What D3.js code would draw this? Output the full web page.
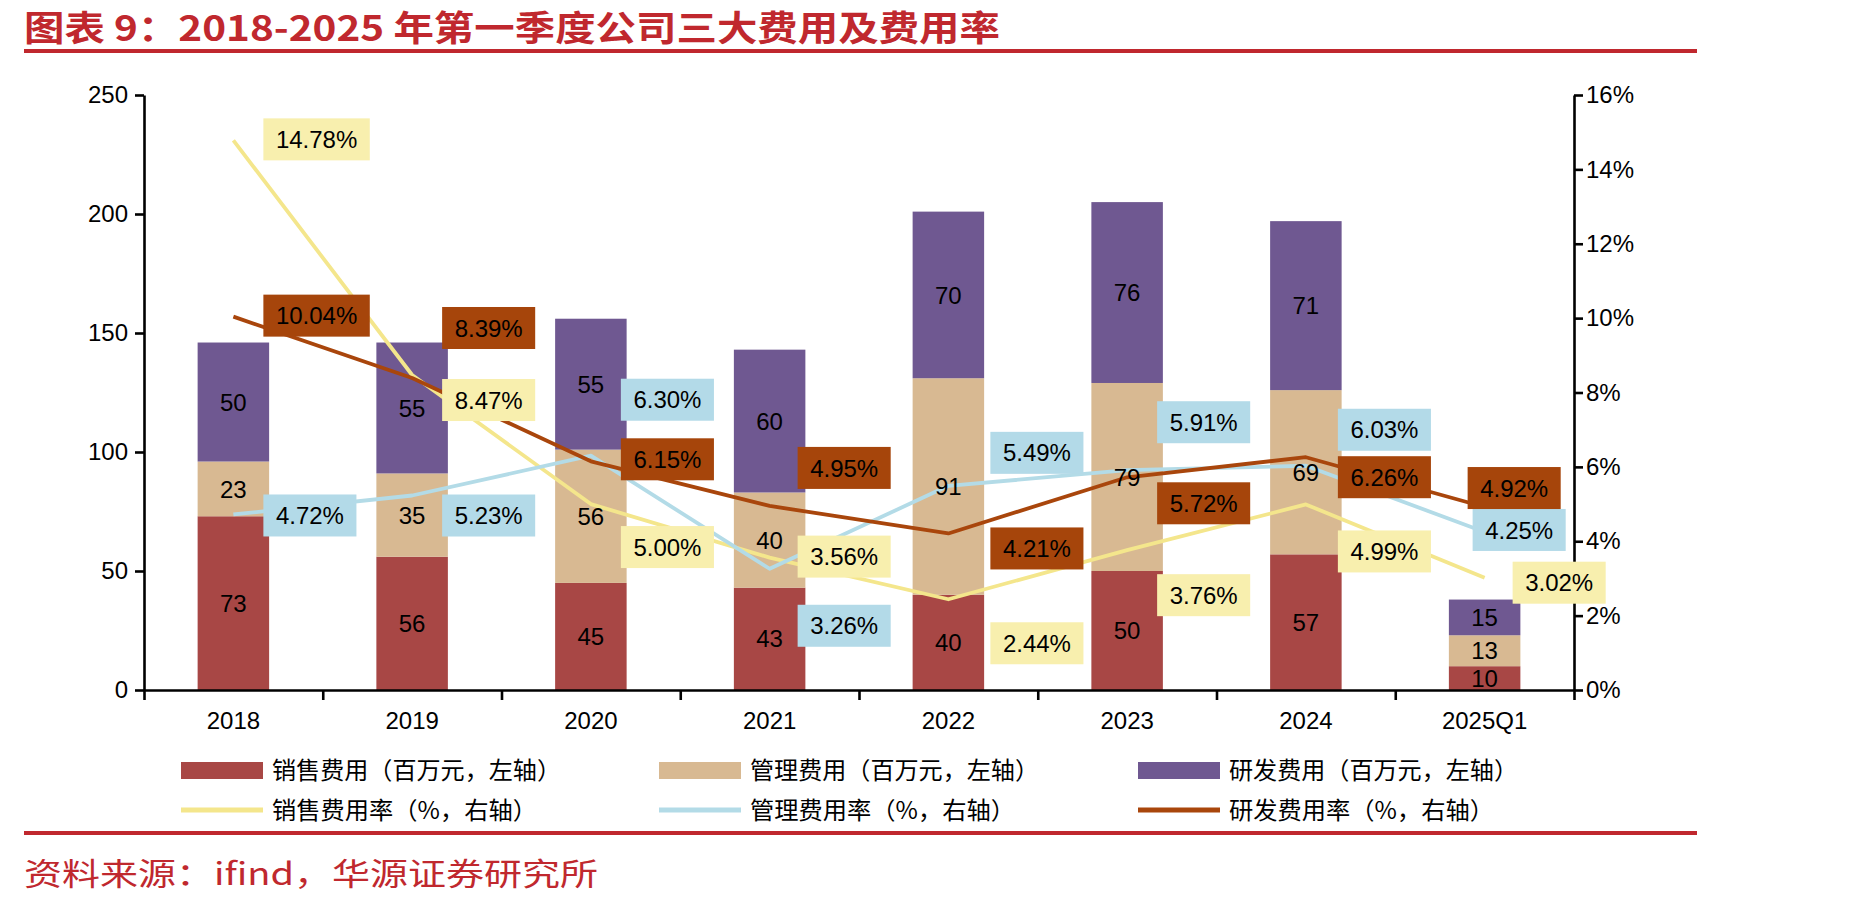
<!DOCTYPE html>
<html>
<head>
<meta charset="utf-8">
<script src="https://cdn.jsdelivr.net/npm/d3@7"></script>
<style>
  body { margin: 0; background: #fff; }
  text { font-family: "Liberation Sans", Arial, Helvetica, sans-serif; }
  .cjk { font-family: "Noto Sans CJK SC", sans-serif; }
</style>
</head>
<body>
<div id="chart"></div>
<script>
// Chart data
// ================================
var categories = ["2018", "2019", "2020", "2021", "2022", "2023", "2024", "2025Q1"];
var salesExp = [73, 56, 45, 43, 40, 50, 57, 10];
var adminExp = [23, 35, 56, 40, 91, 79, 69, 13];
var rdExp = [50, 55, 55, 60, 70, 76, 71, 15];
var salesRate = [14.78, 8.47, 5.0, 3.56, 2.44, 3.76, 4.99, 3.02];
var adminRate = [4.72, 5.23, 6.3, 3.26, 5.49, 5.91, 6.03, 4.25];
var rdRate = [10.04, 8.39, 6.15, 4.95, 4.21, 5.72, 6.26, 4.92];
var leftTicks = [0, 50, 100, 150, 200, 250];
var rightTicks = [0, 2, 4, 6, 8, 10, 12, 14, 16];

// label nudges (px) so the boxes don't collide
var salesDx = [30, 30, 30, 28, 42, 30, 32, 28];
var salesDy = [-1, 25, 43, -1, 44, 45, 47, 5];
var adminDx = [30, 30, 30, 28, 42, 30, 32, -12];
var adminDy = [1, 20, -56, 57, -33, -48, -36, -2];
var rdDx = [30, 30, 30, 28, 42, 30, 32, -17];
var rdDy = [-1, -50, -2, -38, 15, 26, 20, -19];

var red = "#c0282e";
var colors = {
  sales: "#a84745",
  admin: "#d8b992",
  rd: "#6f5891",
  salesLine: "#f4e68c",
  adminLine: "#b3dbe7",
  rdLine: "#a9460c",
  salesBox: "#f8efae",
  adminBox: "#b3dae8",
  rdBox: "#a6450b",
};

// Set up the svg
// ================================
var svgWidth = 1852;
var svgHeight = 905;
var plot = { left: 144, right: 1574, top: 95, bottom: 690 };

var svg = d3
  .select("#chart")
  .append("svg")
  .attr("width", svgWidth)
  .attr("height", svgHeight)
  .style("background", "#fff");

// title + rules
svg
  .append("text")
  .attr("class", "cjk")
  .attr("x", 24)
  .attr("y", 41)
  .attr("fill", red)
  .attr("font-size", 35)
  .attr("font-weight", "bold")
  .attr("textLength", 976)
  .attr("lengthAdjust", "spacingAndGlyphs")
  .text("图表 9：2018-2025 年第一季度公司三大费用及费用率");

svg.append("rect").attr("x", 24).attr("y", 49).attr("width", 1673).attr("height", 4).attr("fill", red);
svg.append("rect").attr("x", 24).attr("y", 831).attr("width", 1673).attr("height", 4).attr("fill", red);

svg
  .append("text")
  .attr("class", "cjk")
  .attr("x", 24)
  .attr("y", 885)
  .attr("fill", red)
  .attr("font-size", 31)
  .attr("textLength", 574)
  .attr("lengthAdjust", "spacingAndGlyphs")
  .text("资料来源：ifind，华源证券研究所");

// scales
var xScale = d3
  .scaleBand()
  .domain(categories)
  .range([plot.left, plot.right])
  .paddingInner(0.6)
  .paddingOuter(0.3);

var yLeft = d3.scaleLinear().domain([0, 250]).range([plot.bottom, plot.top]);
var yRight = d3.scaleLinear().domain([0, 16]).range([plot.bottom, plot.top]);
var xEdge = d3.scaleLinear().domain([0, categories.length]).range([plot.left, plot.right]);

function cx(i) {
  return xScale(categories[i]) + xScale.bandwidth() / 2;
}

// stacked bars
var table = categories.map(function (c, i) {
  return { cat: c, sales: salesExp[i], admin: adminExp[i], rd: rdExp[i] };
});
var stacked = d3.stack().keys(["sales", "admin", "rd"])(table);

var barGroup = svg.append("g");
stacked.forEach(function (layer) {
  barGroup
    .selectAll(null)
    .data(layer)
    .enter()
    .append("rect")
    .attr("x", (d) => xScale(d.data.cat))
    .attr("y", (d) => yLeft(d[1]))
    .attr("width", xScale.bandwidth())
    .attr("height", (d) => yLeft(d[0]) - yLeft(d[1]))
    .attr("fill", colors[layer.key]);
});

// axes
function styleAxis(g) {
  g.select(".domain").attr("stroke", "#000").attr("stroke-width", 2.6);
  g.selectAll(".tick line").attr("stroke", "#000").attr("stroke-width", 2.6);
  g.selectAll(".tick text").attr("fill", "#000").attr("font-size", 24).attr("font-family", "Liberation Sans, Arial, sans-serif");
}

var leftAxis = d3.axisLeft(yLeft).tickValues(leftTicks).tickSize(9).tickSizeOuter(0).tickPadding(7);
svg.append("g").attr("transform", `translate(${plot.left},0)`).call(leftAxis).call(styleAxis);

var rightAxis = d3
  .axisRight(yRight)
  .tickValues(rightTicks)
  .tickFormat((d) => d + "%")
  .tickSize(9)
  .tickSizeOuter(0)
  .tickPadding(3);
svg.append("g").attr("transform", `translate(${plot.right},0)`).call(rightAxis).call(styleAxis);

var edgeAxis = d3.axisBottom(xEdge).ticks(categories.length).tickFormat("").tickSize(10).tickSizeOuter(0);
svg.append("g").attr("transform", `translate(0,${plot.bottom})`).call(edgeAxis).call(styleAxis);

var bottomAxis = d3.axisBottom(xScale).tickSize(0).tickPadding(22);
var xAxisG = svg.append("g").attr("transform", `translate(0,${plot.bottom})`).call(bottomAxis).call(styleAxis);
xAxisG.select(".domain").remove();

// lines
var lineSeries = [
  { values: salesRate, color: colors.salesLine, box: colors.salesBox, dx: salesDx, dy: salesDy },
  { values: adminRate, color: colors.adminLine, box: colors.adminBox, dx: adminDx, dy: adminDy },
  { values: rdRate, color: colors.rdLine, box: colors.rdBox, dx: rdDx, dy: rdDy },
];

var lineGen = d3
  .line()
  .x((d, i) => cx(i))
  .y((d) => yRight(d));

lineSeries.forEach(function (s) {
  svg
    .append("path")
    .datum(s.values)
    .attr("d", lineGen)
    .attr("fill", "none")
    .attr("stroke", s.color)
    .attr("stroke-width", 3.8)
    .attr("stroke-linejoin", "round");
});

// bar value labels
stacked.forEach(function (layer) {
  svg
    .append("g")
    .selectAll("text")
    .data(layer)
    .enter()
    .append("text")
    .attr("x", (d) => xScale(d.data.cat) + xScale.bandwidth() / 2)
    .attr("y", (d) => (yLeft(d[0]) + yLeft(d[1])) / 2)
    .attr("dy", "0.36em")
    .attr("text-anchor", "middle")
    .attr("font-size", 24)
    .attr("fill", "#000")
    .text((d) => d.data[layer.key]);
});

// rate label boxes
lineSeries.forEach(function (s) {
  s.values.forEach(function (v, i) {
    var g = svg.append("g");
    var bx = cx(i) + s.dx[i];
    var by = yRight(v) + s.dy[i];
    var rect = g.append("rect");
    var t = g
      .append("text")
      .attr("x", bx + 12.5)
      .attr("y", by)
      .attr("dy", "0.36em")
      .attr("font-size", 24)
      .attr("fill", "#000")
      .text(v.toFixed(2) + "%");
    var w = t.node().getComputedTextLength();
    rect
      .attr("x", bx)
      .attr("y", by - 21)
      .attr("width", w + 25)
      .attr("height", 42)
      .attr("fill", s.box);
  });
});

// legend
var legendItems = [
  { label: "销售费用（百万元，左轴）", color: colors.sales, type: "bar" },
  { label: "管理费用（百万元，左轴）", color: colors.admin, type: "bar" },
  { label: "研发费用（百万元，左轴）", color: colors.rd, type: "bar" },
  { label: "销售费用率（%，右轴）", color: colors.salesLine, type: "line" },
  { label: "管理费用率（%，右轴）", color: colors.adminLine, type: "line" },
  { label: "研发费用率（%，右轴）", color: colors.rdLine, type: "line" },
];
var legendX = [181, 659, 1138];
var legendY = [770, 810];

legendItems.forEach(function (d, i) {
  var x = legendX[i % 3];
  var y = legendY[Math.floor(i / 3)];
  if (d.type === "bar") {
    svg.append("rect").attr("x", x).attr("y", y - 8).attr("width", 82).attr("height", 17).attr("fill", d.color);
  } else {
    svg.append("rect").attr("x", x).attr("y", y - 2.5).attr("width", 82).attr("height", 5).attr("fill", d.color);
  }
  svg
    .append("text")
    .attr("class", "cjk")
    .attr("x", x + 91)
    .attr("y", y)
    .attr("dy", "0.36em")
    .attr("font-size", 24)
    .attr("fill", "#000")
    .attr("textLength", d.type === "bar" ? 289 : 265)
    .attr("lengthAdjust", "spacingAndGlyphs")
    .text(d.label);
});
</script>
</body>
</html>
